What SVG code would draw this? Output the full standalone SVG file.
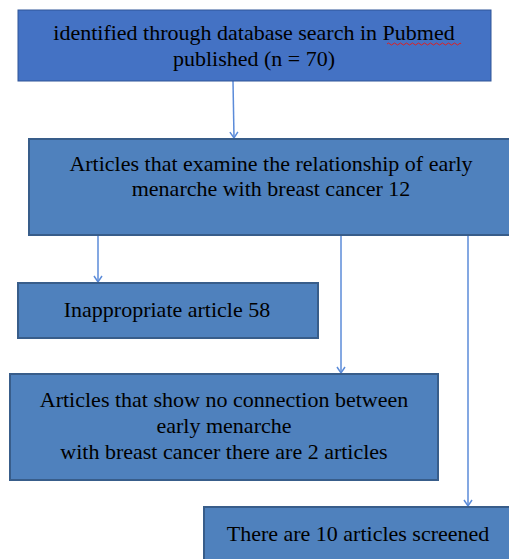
<svg xmlns="http://www.w3.org/2000/svg" width="509" height="559" viewBox="0 0 509 559">
<style>
.n1{fill:#4472C4;stroke:#2F5597;stroke-width:1}
.n{fill:#4F81BD;stroke:#385D8A;stroke-width:2}
.t{font-family:"Liberation Serif",serif;font-size:22px;fill:#000;text-anchor:middle}
.c{stroke:#5B8BD9;stroke-width:1.5;fill:none}
</style>
<defs>
<marker id="ah" markerWidth="10" markerHeight="10" refX="8" refY="5" orient="auto" markerUnits="userSpaceOnUse" viewBox="0 0 10 10">
<path d="M2,1 L8,5 L2,9" fill="none" stroke="#5B8BD9" stroke-width="1.5"/>
</marker>
</defs>
<g id="connectors">
<line class="c" x1="233" y1="81" x2="234" y2="138" marker-end="url(#ah)"/>
<line class="c" x1="98" y1="236" x2="98" y2="282" marker-end="url(#ah)"/>
<line class="c" x1="341" y1="236" x2="341" y2="373" marker-end="url(#ah)"/>
<line class="c" x1="468" y1="232" x2="468" y2="506" marker-end="url(#ah)"/>
</g>
<g id="node1">
<rect class="n1" x="18" y="10" width="473" height="71"/>
<text class="t" x="254" y="40">identified through database search in Pubmed</text>
<text class="t" x="254" y="66">published (n = 70)</text>
<path d="M387,44 q1.5,-2 3,0 t3,0 t3,0 t3,0 t3,0 t3,0 t3,0 t3,0 t3,0 t3,0 t3,0 t3,0 t3,0 t3,0 t3,0 t3,0 t3,0 t3,0 t3,0 t3,0 t3,0 t3,0 t3,0 t3,0 t2,0" fill="none" stroke="#E02020" stroke-width="1"/>
</g>
<g id="node2">
<rect class="n" x="29" y="139" width="485" height="96"/>
<text class="t" x="271" y="171">Articles that examine the relationship of early</text>
<text class="t" x="271" y="196">menarche with breast cancer 12</text>
</g>
<g id="node3">
<rect class="n" x="18" y="283" width="300" height="55"/>
<text class="t" x="167" y="317">Inappropriate article 58</text>
</g>
<g id="node4">
<rect class="n" x="10" y="374" width="428" height="106"/>
<text class="t" x="224" y="407">Articles that show no connection between</text>
<text class="t" x="224" y="433">early menarche</text>
<text class="t" x="224" y="459">with breast cancer there are 2 articles</text>
</g>
<g id="node5">
<rect class="n" x="204" y="507" width="310" height="60"/>
<text class="t" x="358" y="541">There are 10 articles screened</text>
</g>
</svg>
